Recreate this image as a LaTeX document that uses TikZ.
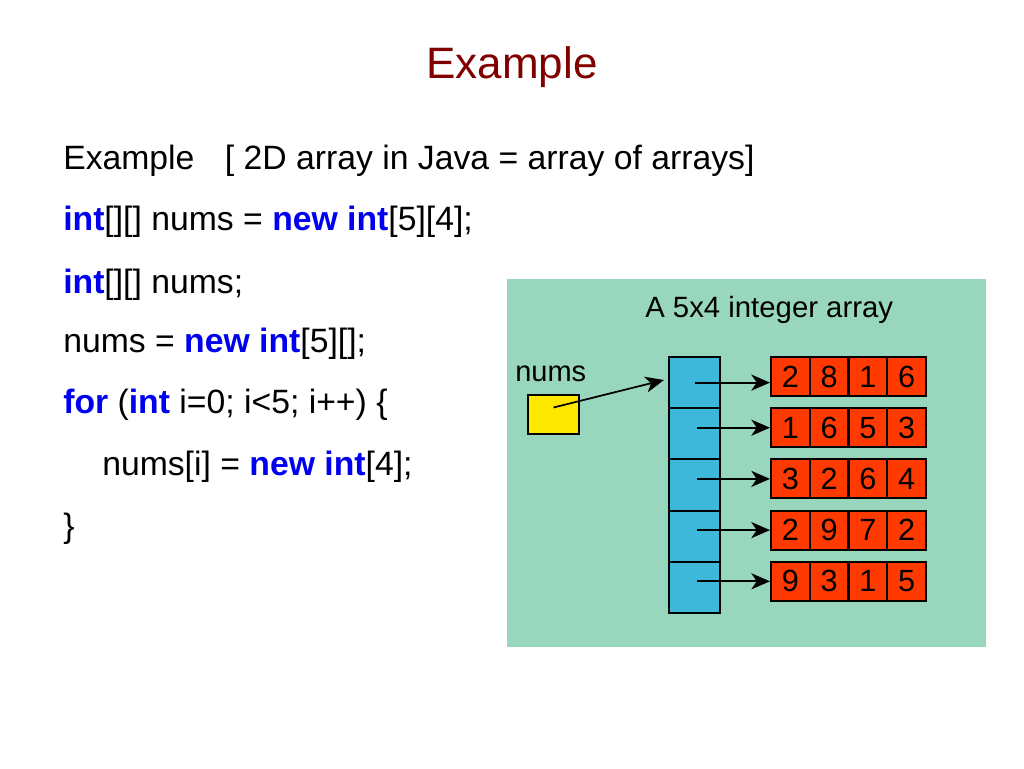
\documentclass[tikz,border=0pt]{standalone}
\usepackage{fontspec}
\setmainfont{Liberation Sans}
\usetikzlibrary{arrows.meta}
\definecolor{bgGreen}{RGB}{152,214,190}
\definecolor{cellBlue}{RGB}{62,184,218}
\definecolor{cellRed}{RGB}{255,58,0}
\definecolor{boxYellow}{RGB}{255,232,0}
\definecolor{kwBlue}{RGB}{0,0,240}
\definecolor{titleRed}{RGB}{128,0,0}
\newcommand{\kw}[1]{\textcolor{kwBlue}{\bfseries #1}}
\tikzset{
  codeline/.style={anchor=base west, inner sep=0pt, font=\fontsize{25.3pt}{30pt}\selectfont},
  bluecell/.style={draw=black, line width=1.5pt, fill=cellBlue, minimum width=38.25pt, minimum height=38.4pt, inner sep=0pt},
  redcell/.style={draw=black, line width=1.5pt, fill=cellRed, minimum width=29.06pt, minimum height=29.25pt, inner sep=0pt, font=\fontsize{23pt}{26pt}\selectfont},
  ptr/.style={line width=1.6pt, -{Stealth[length=14pt,width=12pt,inset=4pt]}},
}
\begin{document}
\begin{tikzpicture}[x=0.75pt,y=-0.75pt]
\useasboundingbox (0,0) rectangle (1024,768);
% title
\node[anchor=base, inner sep=0pt, text=titleRed, font=\fontsize{33pt}{38pt}\selectfont] (title) at (512,78) {Example};
% code lines
\node[codeline] (l1) at (63,169) {Example\hspace{0.9em}[ 2D array in Java = array of arrays]};
\node[codeline] (l2) at (63,230) {\kw{int}[][] nums = \kw{new int}[5][4];};
\node[codeline] (l3) at (63,293) {\kw{int}[][] nums;};
\node[codeline] (l4) at (63,352) {nums = \kw{new int}[5][];};
\node[codeline] (l5) at (63,413) {\kw{for} (\kw{int} i=0; i<5; i++) \{};
\node[codeline] (l6) at (102,475) {nums[i] = \kw{new int}[4];};
\node[codeline] (l7) at (63,537) {\}};
% diagram background
\fill[bgGreen] (507,279) rectangle (986,647);
\node[anchor=base west, inner sep=0pt, font=\fontsize{22pt}{26pt}\selectfont] (dtitle) at (645,317) {A 5x4 integer array};
\node[anchor=base west, inner sep=0pt, font=\fontsize{21.75pt}{26pt}\selectfont] (numslbl) at (515,381) {nums};
\node[draw=black, line width=1.5pt, fill=boxYellow, minimum width=38.25pt, minimum height=29.25pt, inner sep=0pt] (ybox) at (553.5,414.5) {};
% blue column
\foreach \k in {1,...,5} {
  \node[bluecell] (b\k) at (694.5,{357+51.2*(\k-1)+25.6}) {};
}
% red rows
\foreach \r/\a/\b/\c/\d in {1/2/8/1/6, 2/1/6/5/3, 3/3/2/6/4, 4/2/9/7/2, 5/9/3/1/5} {
  \node[redcell] (r\r c1) at (790.4,{357+51.2*(\r-1)+19.5}) {\a};
  \node[redcell] (r\r c2) at (829.1,{357+51.2*(\r-1)+19.5}) {\b};
  \node[redcell] (r\r c3) at (867.9,{357+51.2*(\r-1)+19.5}) {\c};
  \node[redcell] (r\r c4) at (906.6,{357+51.2*(\r-1)+19.5}) {\d};
}
% pointers
\draw[ptr] (b1.center) -- (b1.center -| r1c1.west);
\foreach \r in {2,...,5} {
  \draw[ptr] ([xshift=2pt]r\r c1.west -| b\r.center) -- (r\r c1.west);
}
\coordinate (colin) at (664,380);
\draw[line width=1.3pt, -{Stealth[length=14pt,width=12pt,inset=4pt]}] (ybox.center) ++(0,-7) -- (colin);
\end{tikzpicture}
\end{document}
